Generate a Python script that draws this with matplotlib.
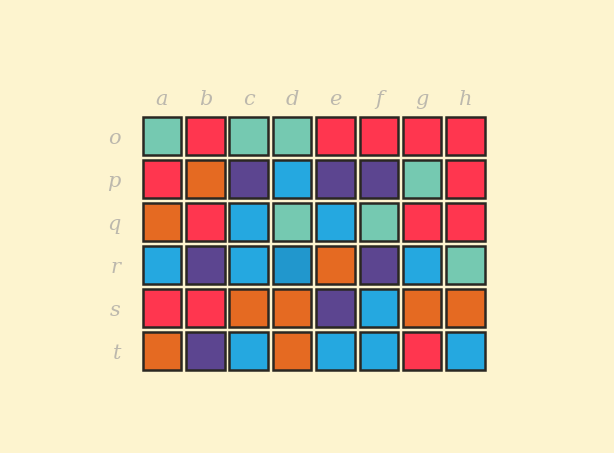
import matplotlib
matplotlib.use("Agg")
import matplotlib.pyplot as plt
import numpy as np

cols = ["a", "b", "c", "d", "e", "f", "g", "h"]
rows = ["o", "p", "q", "r", "s", "t"]
grid = [
    ["teal", "red", "teal", "teal", "red", "red", "red", "red"],
    ["red", "orange", "purple", "blue", "purple", "purple", "teal", "red"],
    ["orange", "red", "blue", "teal", "blue", "teal", "red", "red"],
    ["blue", "purple", "blue", "blue2", "orange", "purple", "blue", "teal"],
    ["red", "red", "orange", "orange", "purple", "blue", "orange", "orange"],
    ["orange", "purple", "blue", "orange", "blue", "blue", "red", "blue"],
]
palette = {
    "teal": "#75c9b1",
    "red": "#ff364f",
    "orange": "#e56a22",
    "blue": "#25a8e0",
    "blue2": "#2197cd",
    "purple": "#5c4590",
}
bg = "#fdf4cf"

fig = plt.figure(figsize=(6.14, 4.53), dpi=100, facecolor=bg)
ax = fig.add_axes([0.2285, 0.1777, 0.565, 0.5695])
ax.set_facecolor(bg)

for ri, row in enumerate(grid):
    xs = np.arange(len(cols))
    ax.bar(xs, 0.88, bottom=ri - 0.44, width=0.89,
           color=[palette[c] for c in row], edgecolor="#2a2722",
           linewidth=1.8)

ax.set_xlim(-0.5, len(cols) - 0.5)
ax.set_ylim(len(rows) - 0.5, -0.5)
ax.set_xticks(range(len(cols)))
ax.set_xticklabels(cols)
ax.set_yticks(range(len(rows)))
ax.set_yticklabels(rows)
ax.xaxis.tick_top()
ax.tick_params(length=0, labelsize=15, colors="#bcb8ad", pad=4)
ax.tick_params(axis="y", pad=14)
for lab in ax.get_xticklabels() + ax.get_yticklabels():
    lab.set_fontfamily("DejaVu Serif")
    lab.set_fontstyle("italic")
    lab.set_color("#bcb8ad")
for s in ax.spines.values():
    s.set_visible(False)

fig.savefig("out.png", dpi=100, facecolor=bg)
